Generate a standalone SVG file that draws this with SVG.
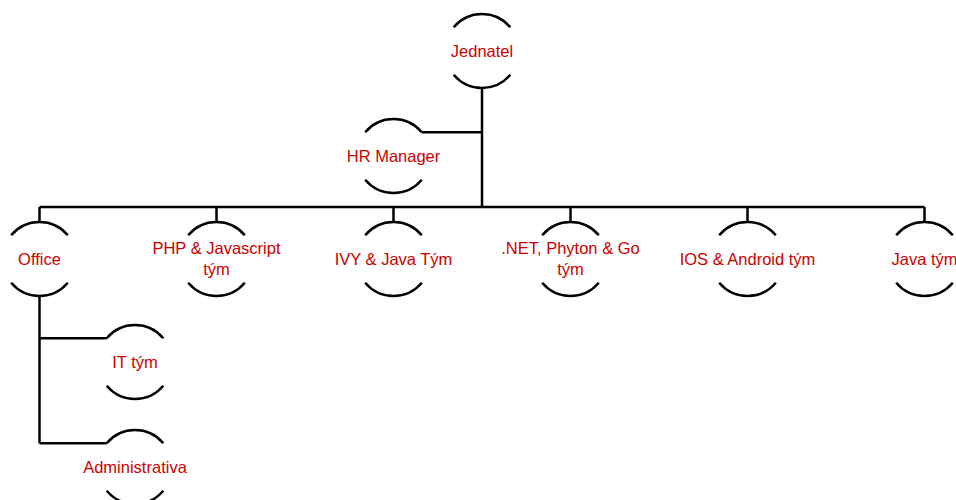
<svg xmlns="http://www.w3.org/2000/svg" xmlns:xlink="http://www.w3.org/1999/xlink" width="956" height="500" viewBox="0 0 956 500">
<style>
.ring{fill:none;stroke:#000;stroke-width:2.5}
.conn path{fill:none;stroke:#000;stroke-width:2.5}
text{font-family:"Liberation Sans",Arial,sans-serif;font-size:16.5px;fill:#CC0000;text-anchor:middle}
</style>
<defs>
<path id="ring" class="ring" d="M -28.3 -23.8 A 37 37 0 0 1 28.3 -23.8 M -28.3 23.8 A 37 37 0 0 0 28.3 23.8"/>
</defs>
<rect width="956" height="500" fill="#fff"/>
<g id="connectors" class="conn">
<path d="M482 88 V207"/>
<path d="M421.7 132.2 H482"/>
<path d="M39.5 207 H924.5"/>
<path d="M39.5 207 V222"/>
<path d="M216.5 207 V222"/>
<path d="M393.5 207 V222"/>
<path d="M570.5 207 V222"/>
<path d="M747.5 207 V222"/>
<path d="M924.5 207 V222"/>
<path d="M39.5 296 V443.2"/>
<path d="M39.5 338.2 H106.7"/>
<path d="M39.5 443.2 H106.7"/>
</g>
<g id="jednatel"><use xlink:href="#ring" x="482" y="51"/><text x="482" y="57">Jednatel</text></g>
<g id="hr-manager"><use xlink:href="#ring" x="393.5" y="156"/><text x="393.5" y="162">HR Manager</text></g>
<g id="office"><use xlink:href="#ring" x="39.5" y="259"/><text x="39.5" y="265">Office</text></g>
<g id="php"><use xlink:href="#ring" x="216.5" y="259"/><text x="216.5" y="254">PHP &amp; Javascript</text><text x="216.5" y="275">tým</text></g>
<g id="ivy"><use xlink:href="#ring" x="393.5" y="259"/><text x="393.5" y="265">IVY &amp; Java Tým</text></g>
<g id="net"><use xlink:href="#ring" x="570.5" y="259"/><text x="570.5" y="254">.NET, Phyton &amp; Go</text><text x="570.5" y="275">tým</text></g>
<g id="ios"><use xlink:href="#ring" x="747.5" y="259"/><text x="747.5" y="265">IOS &amp; Android tým</text></g>
<g id="java"><use xlink:href="#ring" x="924.5" y="259"/><text x="924.5" y="265">Java tým</text></g>
<g id="it"><use xlink:href="#ring" x="135" y="362"/><text x="135" y="368">IT tým</text></g>
<g id="administrativa"><use xlink:href="#ring" x="135" y="467"/><text x="135" y="473">Administrativa</text></g>
</svg>
